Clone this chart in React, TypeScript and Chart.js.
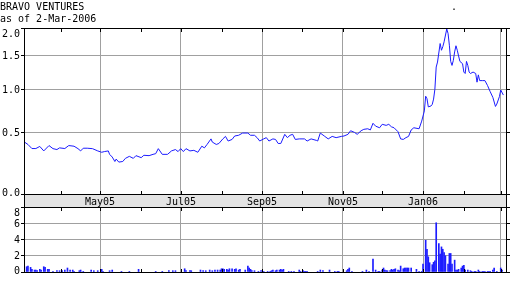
import React, { useEffect, useRef } from "react";
import { Chart, registerables } from "chart.js";

Chart.register(...registerables);

const titleText = "BRAVO VENTURES";
const subtitleText = "as of 2-Mar-2006";
const strayMark = ".";

// x axis: days counted from 1-Mar-2005
const xMinDay = 3;
const xMaxDay = 369;
const monthStartDays = [31, 61, 92, 122, 153, 184, 214, 245, 275, 306, 337, 365];
const monthNames = ["Apr05", "May05", "Jun05", "Jul05", "Aug05", "Sep05", "Oct05", "Nov05", "Dec05", "Jan06", "Feb06", "Mar06"];
const monthLabelShown = [false, true, false, true, false, true, false, true, false, true, false, false];
const monthGridShown = [false, true, false, true, false, true, false, true, false, true, false, true];

const priceTickValues = [0, 0.5, 1.0, 1.5, 2.0];
const volumeTickValues = [0, 2, 4, 6, 8];

const priceDays = [
  3, 6, 9, 12, 15, 18, 22, 25, 28, 30, 34, 37, 41, 44, 46, 48, 51, 55, 59, 62,
  64, 67, 68, 70, 72, 73, 75, 78, 80, 83, 86, 88, 92, 94, 98, 101, 103, 105, 108, 112,
  115, 118, 120, 122, 124, 126, 129, 132, 135, 138, 140, 142, 145, 146, 149, 151, 154, 156, 158, 161,
  163, 166, 169, 173, 175, 178, 180, 182, 185, 187, 189, 192, 194, 196, 198, 201, 203, 205, 207, 209,
  212, 216, 218, 221, 225, 226, 228, 231, 234, 237, 240, 244, 246, 249, 251, 254, 256, 259, 261, 264,
  266, 268, 270, 273, 275, 278, 280, 282, 284, 287, 289, 291, 293, 295, 297, 299, 303, 305, 307, 308,
  309, 310, 312, 313, 314, 315, 316, 317, 319, 320, 321, 322, 324, 325, 326, 327, 328, 329, 330, 331,
  332, 333, 334, 336, 337, 338, 339, 340, 341, 342, 344, 346, 347, 348, 349, 351, 353, 355, 357, 359,
  361, 362, 364, 365, 367,
];
const priceValues = [
  0.413, 0.388, 0.351, 0.351, 0.37, 0.33, 0.378, 0.35, 0.342, 0.357, 0.351, 0.378, 0.372, 0.35, 0.33, 0.354, 0.354, 0.35, 0.33, 0.318,
  0.324, 0.33, 0.3, 0.277, 0.24, 0.26, 0.235, 0.24, 0.266, 0.283, 0.266, 0.289, 0.272, 0.292, 0.289, 0.3, 0.306, 0.35, 0.3, 0.3,
  0.33, 0.342, 0.324, 0.35, 0.324, 0.35, 0.33, 0.335, 0.318, 0.372, 0.357, 0.388, 0.44, 0.41, 0.388, 0.397, 0.44, 0.464, 0.42, 0.435,
  0.468, 0.475, 0.497, 0.497, 0.475, 0.475, 0.452, 0.42, 0.44, 0.452, 0.42, 0.44, 0.435, 0.397, 0.397, 0.484, 0.452, 0.475, 0.484, 0.435,
  0.44, 0.44, 0.42, 0.44, 0.426, 0.42, 0.497, 0.468, 0.44, 0.464, 0.452, 0.464, 0.468, 0.484, 0.52, 0.503, 0.484, 0.52, 0.534, 0.54,
  0.528, 0.597, 0.567, 0.55, 0.586, 0.575, 0.586, 0.56, 0.55, 0.51, 0.44, 0.435, 0.452, 0.464, 0.528, 0.55, 0.54, 0.62, 0.733, 0.91,
  0.88, 0.78, 0.79, 0.81, 0.874, 1.0, 1.317, 1.395, 1.707, 1.589, 1.65, 1.738, 1.98, 1.894, 1.677, 1.405, 1.342, 1.42, 1.561, 1.667,
  1.589, 1.493, 1.405, 1.369, 1.241, 1.22, 1.405, 1.342, 1.241, 1.22, 1.241, 1.22, 1.096, 1.2, 1.118, 1.118, 1.118, 1.049, 0.968, 0.896,
  0.785, 0.813, 0.905, 0.99, 0.925,
];

const volumeDays = [
  3, 5, 6, 8, 9, 11, 12, 13, 15, 16, 18, 19, 21, 22, 25, 28, 30, 32, 34, 36,
  38, 40, 41, 45, 46, 48, 54, 56, 59, 62, 63, 68, 70, 77, 83, 90, 103, 108, 113, 116,
  118, 125, 126, 129, 130, 137, 139, 141, 144, 146, 148, 150, 152, 153, 154, 155, 157, 158, 159, 161,
  163, 164, 166, 167, 171, 173, 174, 175, 176, 178, 181, 183, 185, 188, 190, 191, 192, 194, 195, 197,
  198, 199, 200, 204, 206, 208, 212, 213, 215, 216, 217, 218, 226, 228, 230, 235, 239, 241, 242, 248,
  249, 250, 252, 260, 263, 265, 268, 270, 272, 273, 275, 276, 277, 278, 279, 281, 282, 283, 284, 285,
  287, 288, 289, 291, 292, 293, 294, 295, 297, 301, 303, 305, 306, 308, 309, 310, 311, 313, 314, 315,
  316, 318, 319, 320, 321, 322, 323, 325, 326, 327, 328, 330, 331, 332, 333, 335, 336, 337, 338, 340,
  342, 343, 345, 346, 348, 349, 351, 352, 353, 355, 356, 357, 359, 360, 362, 365, 366,
];
const volumeValues = [
  0.98, 0.65, 0.73, 0.57, 0.33, 0.24, 0.24, 0.16, 0.33, 0.24, 0.65, 0.57, 0.33, 0.33, 0.08, 0.16, 0.16, 0.16, 0.24, 0.49,
  0.24, 0.24, 0.08, 0.16, 0.24, 0.08, 0.24, 0.16, 0.16, 0.33, 0.08, 0.16, 0.24, 0.08, 0.08, 0.33, 0.08, 0.08, 0.16, 0.16,
  0.16, 0.4, 0.16, 0.16, 0.16, 0.24, 0.16, 0.16, 0.24, 0.16, 0.24, 0.24, 0.24, 0.4, 0.4, 0.33, 0.33, 0.24, 0.4, 0.4,
  0.33, 0.4, 0.24, 0.33, 0.24, 0.73, 0.49, 0.33, 0.16, 0.16, 0.08, 0.16, 0.08, 0.08, 0.08, 0.16, 0.24, 0.16, 0.24, 0.24,
  0.33, 0.24, 0.33, 0.08, 0.08, 0.08, 0.24, 0.08, 0.16, 0.08, 0.08, 0.08, 0.08, 0.24, 0.16, 0.24, 0.08, 0.08, 0.08, 0.16,
  0.33, 0.49, 0.08, 0.08, 0.24, 0.08, 1.59, 0.24, 0.08, 0.08, 0.24, 0.49, 0.24, 0.16, 0.16, 0.16, 0.33, 0.24, 0.33, 0.4,
  0.24, 0.16, 0.73, 0.4, 0.49, 0.49, 0.49, 0.49, 0.49, 0.33, 0.08, 0.08, 0.98, 3.9, 2.8, 1.87, 1.14, 0.9, 1.2, 1.38,
  6.06, 3.5, 2.2, 3.09, 2.8, 2.4, 2.0, 0.98, 2.28, 2.28, 0.98, 1.46, 0.24, 0.24, 0.33, 0.49, 0.73, 0.81, 0.24, 0.24,
  0.16, 0.08, 0.08, 0.08, 0.24, 0.08, 0.08, 0.08, 0.08, 0.08, 0.08, 0.08, 0.24, 0.49, 0.08, 0.49, 0.24,
];

const FONT = '10px "DejaVu Sans Mono", monospace';
const GRID = "#a0a0a0";
const BLUE = "#1c1cff";
const BAND = "#e3e3e3";

const tx = (v: number) => Math.log2(1 + v);

function xScaleConfig(height: number) {
  return {
    type: "linear",
    min: xMinDay,
    max: xMaxDay,
    offset: false,
    afterBuildTicks: (s: any) => {
      s.ticks = monthStartDays.map((v) => ({ value: v }));
    },
    afterFit: (s: any) => {
      s.height = height;
    },
    ticks: { display: false },
    grid: {
      offset: false,
      drawTicks: false,
      color: (c: any) => {
        const i = monthStartDays.indexOf(c.tick ? c.tick.value : -1);
        return i >= 0 && monthGridShown[i] ? GRID : "rgba(0,0,0,0)";
      },
    },
    border: { display: false },
  };
}

function yScaleConfig(min: number, max: number, ticks: number[], side: "left" | "right") {
  return {
    type: "linear",
    position: side,
    min,
    max,
    afterBuildTicks: (s: any) => {
      s.ticks = ticks.map((v) => ({ value: v }));
    },
    afterFit: (s: any) => {
      s.width = side === "left" ? 24 : 6;
    },
    ticks: { display: false },
    grid: {
      color: GRID,
      tickColor: "#000",
      tickLength: side === "left" ? 3 : 4,
      drawTicks: true,
      drawOnChartArea: side === "left",
    },
    border: { display: false },
  };
}

function drawFrame(chart: any) {
  const { ctx, chartArea } = chart;
  const l = Math.round(chartArea.left);
  const r = Math.round(chartArea.right);
  const t = Math.round(chartArea.top);
  const b = Math.round(chartArea.bottom);
  ctx.save();
  ctx.strokeStyle = "#000";
  ctx.lineWidth = 1;
  ctx.strokeRect(l + 0.5, t + 0.5, r - l, b - t);
  // inner month ticks
  const xs = chart.scales.x;
  ctx.beginPath();
  monthStartDays.forEach((d) => {
    const px = Math.round(xs.getPixelForValue(d)) + 0.5;
    ctx.moveTo(px, t);
    ctx.lineTo(px, t + 4);
    ctx.moveTo(px, b + 1);
    ctx.lineTo(px, b - 3);
  });
  ctx.stroke();
  ctx.restore();
}

function drawYLabels(chart: any, values: number[], toAxis: (v: number) => number, fmt: (v: number) => string) {
  const { ctx, chartArea } = chart;
  const ys = chart.scales.y;
  ctx.save();
  ctx.font = FONT;
  ctx.fillStyle = "#000";
  ctx.textAlign = "right";
  ctx.textBaseline = "alphabetic";
  values.forEach((v) => {
    const py = ys.getPixelForValue(toAxis(v));
    const c = Math.min(Math.max(py, chartArea.top + 5.5), chartArea.bottom - 2);
    ctx.fillText(fmt(v), 20, Math.round(c + 3.5));
  });
  ctx.restore();
}

const topDecor = {
  id: "topDecor",
  beforeDraw(chart: any) {
    const { ctx, chartArea, height } = chart;
    ctx.save();
    ctx.fillStyle = "#fff";
    ctx.fillRect(0, 0, chart.width, height);
    ctx.fillStyle = BAND;
    const l = Math.round(chartArea.left);
    const r = Math.round(chartArea.right);
    const b = Math.round(chartArea.bottom);
    ctx.fillRect(l, b, r - l, height - b);
    ctx.restore();
  },
  afterDraw(chart: any) {
    const { ctx, chartArea, height } = chart;
    drawFrame(chart);
    const l = Math.round(chartArea.left);
    const r = Math.round(chartArea.right);
    const b = Math.round(chartArea.bottom);
    ctx.save();
    ctx.strokeStyle = "#000";
    ctx.lineWidth = 1;
    ctx.beginPath();
    ctx.moveTo(l + 0.5, b);
    ctx.lineTo(l + 0.5, height);
    ctx.moveTo(r + 0.5, b);
    ctx.lineTo(r + 0.5, height);
    ctx.stroke();
    ctx.font = FONT;
    ctx.fillStyle = "#000";
    ctx.textBaseline = "alphabetic";
    ctx.textAlign = "center";
    const xs = chart.scales.x;
    monthStartDays.forEach((d, i) => {
      if (monthLabelShown[i]) ctx.fillText(monthNames[i], Math.round(xs.getPixelForValue(d)), 205);
    });
    ctx.textAlign = "left";
    ctx.fillText(titleText, 0, 10);
    ctx.fillText(subtitleText, 0, 22);
    ctx.fillText(strayMark, 451, 10);
    ctx.restore();
    drawYLabels(chart, priceTickValues, tx, (v) => v.toFixed(1));
  },
};

const bottomDecor = {
  id: "bottomDecor",
  beforeDraw(chart: any) {
    const { ctx } = chart;
    ctx.save();
    ctx.fillStyle = "#fff";
    ctx.fillRect(0, 0, chart.width, chart.height);
    ctx.restore();
  },
  afterDraw(chart: any) {
    drawFrame(chart);
    drawYLabels(chart, volumeTickValues, (v) => v, (v) => String(v));
  },
};

export default function App() {
  const topRef = useRef<HTMLCanvasElement>(null);
  const botRef = useRef<HTMLCanvasElement>(null);

  useEffect(() => {
    const priceChart = new Chart(topRef.current as HTMLCanvasElement, {
      type: "line",
      data: {
        datasets: [
          {
            data: priceDays.map((d, i) => ({ x: d, y: tx(priceValues[i]) })),
            borderColor: BLUE,
            borderWidth: 1,
            pointRadius: 0,
            tension: 0,
            fill: false,
          },
        ],
      },
      options: {
        animation: false,
        responsive: false,
        maintainAspectRatio: false,
        devicePixelRatio: 1,
        events: [],
        layout: { padding: { top: 28, left: 0, right: 0, bottom: 0 } },
        plugins: { legend: { display: false }, tooltip: { enabled: false }, title: { display: false } },
        scales: {
          x: xScaleConfig(13) as any,
          y: yScaleConfig(0, tx(2), priceTickValues.map(tx), "left") as any,
          yr: yScaleConfig(0, tx(2), priceTickValues.map(tx), "right") as any,
        },
      },
      plugins: [topDecor],
    } as any);

    const volumeChart = new Chart(botRef.current as HTMLCanvasElement, {
      type: "bar",
      data: {
        datasets: [
          {
            data: volumeDays.map((d, i) => ({ x: d, y: volumeValues[i] })),
            backgroundColor: BLUE,
            borderWidth: 0,
            barThickness: 1,
          },
        ],
      },
      options: {
        animation: false,
        responsive: false,
        maintainAspectRatio: false,
        devicePixelRatio: 1,
        events: [],
        layout: { padding: { top: 0, left: 0, right: 0, bottom: 0 } },
        plugins: { legend: { display: false }, tooltip: { enabled: false }, title: { display: false } },
        scales: {
          x: xScaleConfig(16) as any,
          y: yScaleConfig(0, 8, volumeTickValues, "left") as any,
          yr: yScaleConfig(0, 8, volumeTickValues, "right") as any,
        },
      },
      plugins: [bottomDecor],
    } as any);

    return () => {
      priceChart.destroy();
      volumeChart.destroy();
    };
  }, []);

  return (
    <div style={{ position: "absolute", left: 0, top: 0, width: 512, height: 288, background: "#fff" }}>
      <canvas
        ref={topRef}
        width={512}
        height={207}
        style={{ position: "absolute", left: 0, top: 0, width: 512, height: 207, display: "block" }}
      />
      <canvas
        ref={botRef}
        width={512}
        height={81}
        style={{ position: "absolute", left: 0, top: 207, width: 512, height: 81, display: "block" }}
      />
    </div>
  );
}
